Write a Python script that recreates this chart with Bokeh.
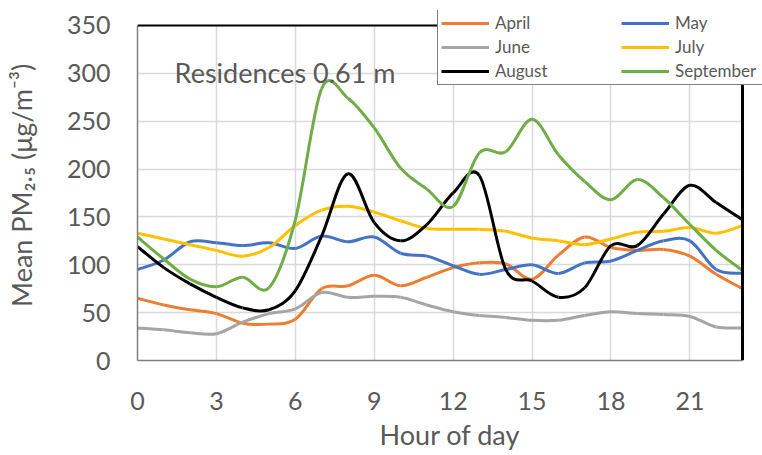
from bokeh.plotting import figure
from bokeh.models import Legend, LegendItem, Label, Range1d, FixedTicker, Span, BoxAnnotation
from bokeh.embed import file_html
from bokeh.resources import INLINE

hours = list(range(24))
april = [65, 58, 53, 49, 39, 38, 43, 75, 78, 89, 78, 87, 97, 102, 101, 85, 110, 129, 118, 115, 116, 109, 90, 75]
may = [95, 105, 124, 123, 120, 123, 117, 130, 124, 129, 112, 109, 99, 90, 95, 100, 91, 102, 104, 115, 125, 125, 95, 91]
june = [34, 32, 29, 28, 40, 49, 54, 71, 66, 67, 66, 58, 51, 47, 45, 42, 42, 47, 51, 49, 48, 46, 35, 34]
july = [133, 127, 121, 115, 109, 118, 141, 157, 161, 155, 146, 138, 137, 137, 135, 128, 125, 121, 127, 134, 135, 139, 133, 141]
august = [119, 97, 80, 66, 55, 53, 73, 130, 195, 144, 125, 142, 175, 193, 95, 83, 66, 76, 120, 120, 153, 183, 165, 147]
september = [129, 106, 85, 77, 87, 76, 147, 284, 274, 243, 201, 179, 161, 217, 218, 252, 215, 187, 168, 189, 170, 142, 115, 94]

series_names = ["April", "May", "June", "July", "August", "September"]
series_values = [april, may, june, july, august, september]
series_colors = ["#ED7D31", "#4472C4", "#A5A5A5", "#FFC000", "#000000", "#70AD47"]

x_ticks = [0, 3, 6, 9, 12, 15, 18, 21]
y_ticks = [0, 50, 100, 150, 200, 250, 300, 350]
x_max = 23
y_max = 350

FONT = "Lato"
TXT = "#595959"

p = figure(width=762, height=455, output_backend="svg", toolbar_location=None,
           x_range=Range1d(0, 23.76), y_range=Range1d(0, 365.6),
           min_border_left=137, min_border_right=0, min_border_top=10, min_border_bottom=95)
p.background_fill_color = "white"
p.border_fill_color = "white"
p.outline_line_color = None

p.xaxis.ticker = FixedTicker(ticks=x_ticks)
p.yaxis.ticker = FixedTicker(ticks=y_ticks)
p.xgrid.ticker = FixedTicker(ticks=x_ticks)
p.ygrid.ticker = FixedTicker(ticks=y_ticks)
for g in (p.xgrid, p.ygrid):
    g.grid_line_color = "#D9D9D9"
    g.grid_line_width = 1.5

for ax in (p.xaxis, p.yaxis):
    ax.major_tick_in = 0
    ax.major_tick_out = 0
    ax.minor_tick_in = 0
    ax.minor_tick_out = 0
    ax.axis_line_color = "#7F7F7F"
    ax.axis_line_width = 1.5
    ax.major_label_text_font = FONT
    ax.major_label_text_font_size = "25px"
    ax.major_label_text_color = TXT
    ax.axis_label_text_font = FONT
    ax.axis_label_text_font_size = "27px"
    ax.axis_label_text_font_style = "normal"
    ax.axis_label_text_color = TXT

p.xaxis.bounds = (0, x_max)
p.yaxis.bounds = (0, y_max)
p.yaxis.major_label_standoff = 27
p.xaxis.major_label_standoff = 31
p.xaxis.axis_label = "Hour of day"
p.xaxis.axis_label_standoff = 5
p.yaxis.axis_label = "Mean PM\u2082.\u2085 (\u03bcg/m\u207b\u00b3)"
p.yaxis.axis_label_standoff = 26


def bezier_parts(xs, ys):
    n = len(xs)
    out = dict(x0=[], y0=[], x1=[], y1=[], cx0=[], cy0=[], cx1=[], cy1=[])
    for i in range(n - 1):
        im1 = max(i - 1, 0)
        ip2 = min(i + 2, n - 1)
        out["x0"].append(xs[i]); out["y0"].append(ys[i])
        out["x1"].append(xs[i + 1]); out["y1"].append(ys[i + 1])
        out["cx0"].append(xs[i] + (xs[i + 1] - xs[im1]) / 6.0)
        out["cy0"].append(ys[i] + (ys[i + 1] - ys[im1]) / 6.0)
        out["cx1"].append(xs[i + 1] - (xs[ip2] - xs[i]) / 6.0)
        out["cy1"].append(ys[i + 1] - (ys[ip2] - ys[i]) / 6.0)
    return out


items = {}
for name, vals, col in zip(series_names, series_values, series_colors):
    d = bezier_parts(hours, vals)
    r = p.bezier(x0=d["x0"], y0=d["y0"], x1=d["x1"], y1=d["y1"],
                 cx0=d["cx0"], cy0=d["cy0"], cx1=d["cx1"], cy1=d["cy1"],
                 line_color=col, line_width=3)
    items[name] = LegendItem(label=name, renderers=[r])

# white masks outside the plotting area (above 350 and right of 23 h)
p.add_layout(BoxAnnotation(bottom=y_max, fill_color="white", fill_alpha=1, line_color=None))
p.add_layout(BoxAnnotation(left=x_max, fill_color="white", fill_alpha=1, line_color=None))
# chart border (top and right)
p.add_layout(Span(location=y_max, dimension="width", line_color="black", line_width=2))
p.add_layout(Span(location=x_max, dimension="height", line_color="black", line_width=3))

# legend filled column by column -> order so that rows read April/May, June/July, August/September
legend_order = ["April", "June", "August", "May", "July", "September"]
legend = Legend(items=[items[n] for n in legend_order], ncols=2, location=(300, 275))
legend.border_line_color = "black"
legend.border_line_width = 1.5
legend.background_fill_color = "white"
legend.background_fill_alpha = 1
legend.label_text_font = FONT
legend.label_text_font_size = "17px"
legend.label_text_color = TXT
legend.glyph_width = 48
legend.glyph_height = 18
legend.label_height = 18
legend.label_width = 123
legend.label_standoff = 6
legend.spacing = 3
legend.padding = 3
legend.margin = 0
p.add_layout(legend)

p.add_layout(Label(x=1.41, y=301, text="Residences 0.61 m", text_font=FONT,
                   text_font_size="27px", text_color=TXT, text_baseline="alphabetic"))

open("out.html", "w").write(file_html(p, INLINE))
